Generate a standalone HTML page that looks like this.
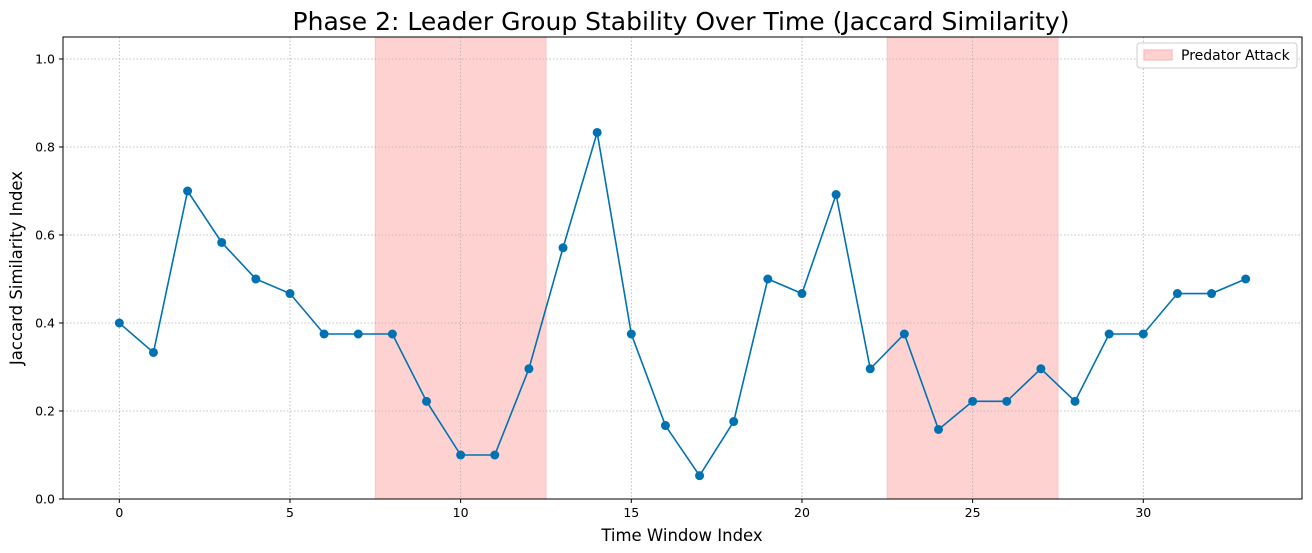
<!DOCTYPE html>
<html><head><meta charset="utf-8"><style>
body{margin:0;background:#fff;}
svg{display:block;font-family:"DejaVu Sans","Liberation Sans",sans-serif;}
</style></head><body>
<svg id="chart" width="1312" height="553" viewBox="0 0 1312 553" xmlns="http://www.w3.org/2000/svg">
<text x="681" y="30" text-anchor="middle" font-size="25" fill="#000">Phase 2: Leader Group Stability Over Time (Jaccard Similarity)</text>
<g id="shade"></g><g id="grid"></g><g id="series"></g><g id="axes"></g>
<text x="682" y="541" text-anchor="middle" font-size="16.5">Time Window Index</text>
<text transform="translate(22,268) rotate(-90)" text-anchor="middle" font-size="16.5">Jaccard Similarity Index</text>
<g>
<rect x="1137" y="43" width="160" height="25" fill="#fff" fill-opacity="0.8" stroke="#ccc" rx="3"/>
<rect x="1144" y="50" width="28" height="10" fill="#ffd2d2" stroke="#ffb0b0"/>
<text x="1181" y="60" font-size="14">Predator Attack</text>
</g>
</svg>
<script>
const values=[0.40,0.333,0.70,0.583,0.50,0.467,0.375,0.375,0.375,0.222,0.10,0.10,0.296,0.571,0.833,0.375,0.167,0.053,0.176,0.50,0.467,0.692,0.296,0.375,0.158,0.222,0.222,0.296,0.222,0.375,0.375,0.467,0.467,0.50];
const attackStarts=[7.5,22.5];
const attackEnds=[12.5,27.5];
const xTicks=[0,5,10,15,20,25,30];
const yTicks=[0.0,0.2,0.4,0.6,0.8,1.0];
const L=63,R=1302,T=37,B=499,xmin=-1.65,xmax=34.65,ymin=0,ymax=1.05;
const X=v=>L+(v-xmin)/(xmax-xmin)*(R-L);
const Y=v=>B-(v-ymin)/(ymax-ymin)*(B-T);
const NS="http://www.w3.org/2000/svg";
function mk(tag,attrs,parent){const e=document.createElementNS(NS,tag);for(const k in attrs)e.setAttribute(k,attrs[k]);document.getElementById(parent).appendChild(e);return e;}
attackStarts.forEach((s,i)=>{const r=mk('rect',{x:X(s),y:T,width:X(attackEnds[i])-X(s),height:B-T,fill:'#ffd2d2',stroke:'#ffc0c0'},'shade');

});
xTicks.forEach(t=>{const g=mk('line',{x1:X(t),x2:X(t),y1:T,y2:B,stroke:'#b0b0b0','stroke-dasharray':'1.5,2','stroke-width':0.8},'grid');


mk('line',{x1:X(t),x2:X(t),y1:B,y2:B+4,stroke:'#000'},'axes');
const tx=mk('text',{x:X(t),y:B+18,'text-anchor':'middle','font-size':12.5},'axes');tx.textContent=t;

});
yTicks.forEach(t=>{const g=mk('line',{x1:L,x2:R,y1:Y(t),y2:Y(t),stroke:'#b0b0b0','stroke-dasharray':'1.5,2','stroke-width':0.8},'grid');


mk('line',{x1:L-4,x2:L,y1:Y(t),y2:Y(t),stroke:'#000'},'axes');
const tx=mk('text',{x:L-8,y:Y(t)+4.5,'text-anchor':'end','font-size':12.5},'axes');tx.textContent=t.toFixed(1);

});
const fr=mk('rect',{x:L,y:T,width:R-L,height:B-T,fill:'none',stroke:'#000','stroke-width':1},'axes');


const pl=mk('polyline',{points:values.map((v,i)=>X(i)+','+Y(v)).join(' '),fill:'none',stroke:'#0072b2','stroke-width':1.6},'series');


values.forEach((v,i)=>{const c=mk('circle',{cx:X(i),cy:Y(v),r:4.5,fill:'#0072b2'},'series');

});
</script>
</body></html>
